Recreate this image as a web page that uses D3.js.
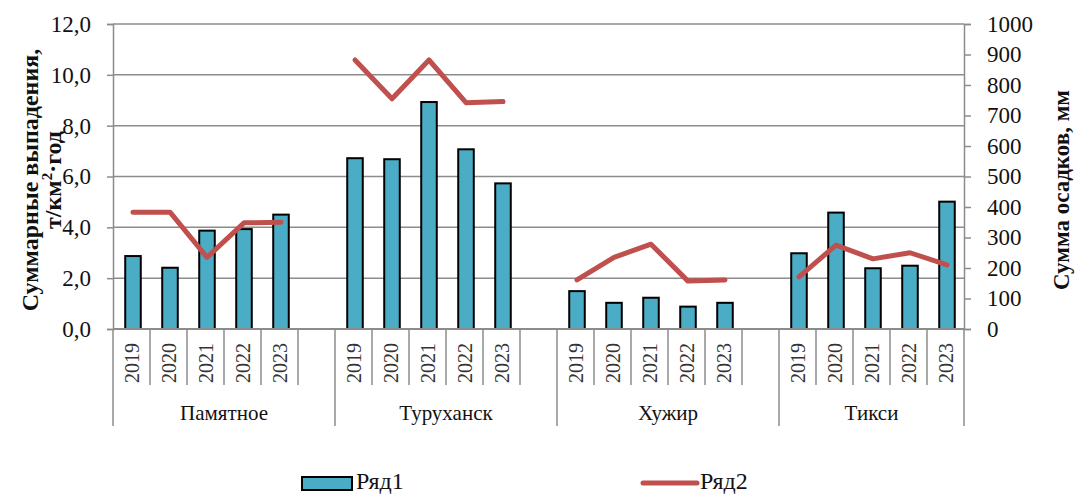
<!DOCTYPE html>
<html><head><meta charset="utf-8">
<script src="https://cdn.jsdelivr.net/npm/d3@7"></script>
<style>body{margin:0;background:#fff}svg{display:block}</style>
</head><body><svg id="c" width="1075" height="495"></svg>
<script>
const groups = ["Памятное","Туруханск","Хужир","Тикси"];
const years = ["2019","2020","2021","2022","2023"];
const ryad1 = [2.87,2.41,3.87,3.93,4.50, 6.72,6.68,8.93,7.07,5.73, 1.49,1.03,1.23,0.88,1.03, 2.98,4.58,2.39,2.49,5.01];
const ryad2 = [383,383,235,348,350, 882,755,882,742,746, 161,235,278,157,161, 171,275,230,250,210];
const leftTicks = [0,2,4,6,8,10,12];
const rightTicks = [0,100,200,300,400,500,600,700,800,900,1000];
const seriesNames = ["Ряд1","Ряд2"];

const svg = d3.select("#c");
const L = 113, R = 964, T = 24, B = 329;
const gridC = "#8c8c8c", barC = "#4bacc6", lineC = "#c0504d";
const FONT = "Liberation Serif";

const slots = [];
groups.forEach((g, gi) => {
  years.forEach((y, yi) => slots.push({g, y, key: g + "|" + y, i: gi * 5 + yi}));
  if (gi < groups.length - 1) slots.push({g, y: null, key: g + "|gap"});
});
const x = d3.scaleBand().domain(slots.map(s => s.key)).range([L, R]).padding(0);
const bw = x.bandwidth();
const yL = d3.scaleLinear().domain([0, 12]).range([B, T]);
const yR = d3.scaleLinear().domain([0, 1000]).range([B, T]);

svg.append("g").selectAll("line").data(leftTicks.filter(d => d > 0)).join("line")
  .attr("x1", L).attr("x2", R).attr("y1", d => yL(d)).attr("y2", d => yL(d))
  .attr("stroke", gridC).attr("stroke-width", 1.5);

const axL = svg.append("g").attr("transform", `translate(${L},0)`)
  .call(d3.axisLeft(yL).tickValues(leftTicks).tickSize(6).tickPadding(16).tickFormat(d => d3.format(".1f")(d).replace(".", ",")));
axL.attr("font-family", FONT);
axL.select(".domain").attr("stroke", gridC).attr("stroke-width", 1.5);
axL.selectAll(".tick line").attr("stroke", gridC).attr("stroke-width", 1.5);
axL.selectAll(".tick text").attr("font-size", 23).attr("fill", "#111");

const axR = svg.append("g").attr("transform", `translate(${R},0)`)
  .call(d3.axisRight(yR).tickValues(rightTicks).tickSize(7).tickPadding(16).tickFormat(d3.format("d")));
axR.attr("font-family", FONT);
axR.select(".domain").attr("stroke", gridC).attr("stroke-width", 1.5);
axR.selectAll(".tick line").attr("stroke", gridC).attr("stroke-width", 1.5);
axR.selectAll(".tick text").attr("font-size", 23).attr("fill", "#111");

const yearSlots = slots.filter(s => s.y !== null);
const barW = bw * 0.42;
svg.append("g").selectAll("rect").data(yearSlots).join("rect")
  .attr("x", s => x(s.key) + bw / 2 - barW / 2 + 1.5)
  .attr("width", barW)
  .attr("y", s => yL(ryad1[s.i]))
  .attr("height", s => B - yL(ryad1[s.i]))
  .attr("fill", barC).attr("stroke", "#000").attr("stroke-width", 2);

svg.append("line").attr("x1", L).attr("x2", R).attr("y1", B).attr("y2", B)
  .attr("stroke", gridC).attr("stroke-width", 2);

const bounds = slots.map(s => x(s.key)).concat([R]);
const gStarts = new Set();
groups.forEach(g => gStarts.add(x(slots.find(s => s.g === g).key)));
gStarts.add(R);
svg.append("g").selectAll("line").data(bounds).join("line")
  .attr("x1", d => d).attr("x2", d => d).attr("y1", B)
  .attr("y2", d => gStarts.has(d) ? 426 : 385)
  .attr("stroke", gridC).attr("stroke-width", 1.5);

svg.append("g").selectAll("text").data(yearSlots).join("text")
  .attr("transform", s => `translate(${x(s.key) + bw / 2 + 7},363) rotate(-90)`)
  .attr("text-anchor", "middle").attr("font-size", 20).attr("fill", "#333")
  .text(s => s.y);

svg.append("g").selectAll("text").data(groups).join("text")
  .attr("x", g => {
    const ss = slots.filter(s => s.g === g);
    const a = x(ss[0].key), b = x(ss[ss.length - 1].key) + bw;
    return (a + b) / 2;
  })
  .attr("y", 420).attr("text-anchor", "middle").attr("font-size", 21).attr("fill", "#111")
  .text(g => g);

const line = d3.line().x(s => x(s.key) + bw / 2 + 1.5).y(s => yR(ryad2[s.i]));
svg.append("g").selectAll("path").data(groups.map(g => yearSlots.filter(s => s.g === g))).join("path")
  .attr("d", line).attr("fill", "none").attr("stroke", lineC).attr("stroke-width", 5)
  .attr("stroke-linejoin", "round").attr("stroke-linecap", "round");

const t1 = svg.append("text").attr("transform", "translate(38,180) rotate(-90)")
  .attr("text-anchor", "middle").attr("font-size", 24).attr("font-weight", "bold").attr("fill", "#111");
t1.text("Суммарные выпадения,");
const t2 = svg.append("text").attr("transform", "translate(61,180) rotate(-90)")
  .attr("text-anchor", "middle").attr("font-size", 24).attr("font-weight", "bold").attr("fill", "#111");
t2.append("tspan").text("т/км");
t2.append("tspan").attr("dy", -9).attr("font-size", 15).text("2");
t2.append("tspan").attr("dy", 9).text("·год");
svg.append("text").attr("transform", "translate(1069,190) rotate(-90)")
  .attr("text-anchor", "middle").attr("font-size", 23).attr("font-weight", "bold").attr("fill", "#111")
  .text("Сумма осадков, мм");

const lg = svg.append("g");
lg.append("rect").attr("x", 302).attr("y", 477).attr("width", 50).attr("height", 13)
  .attr("fill", barC).attr("stroke", "#000").attr("stroke-width", 2);
lg.append("text").attr("x", 356).attr("y", 489).attr("font-size", 24).attr("fill", "#111").text(seriesNames[0]);
lg.append("line").attr("x1", 643).attr("x2", 697).attr("y1", 483).attr("y2", 483)
  .attr("stroke", lineC).attr("stroke-width", 5).attr("stroke-linecap", "round");
lg.append("text").attr("x", 700).attr("y", 489).attr("font-size", 24).attr("fill", "#111").text(seriesNames[1]);

svg.selectAll("text").attr("font-family", FONT).style("font-family", FONT);
</script></body></html>
